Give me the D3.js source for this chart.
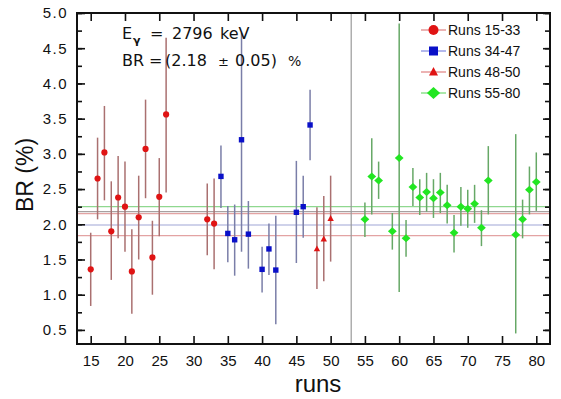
<!DOCTYPE html>
<html>
<head>
<meta charset="utf-8">
<script src="https://cdn.jsdelivr.net/npm/d3@7"></script>
<style>
  html, body { margin: 0; padding: 0; background: #fff; }
  svg { display: block; font-family: Arial, "Liberation Sans", sans-serif; }
</style>
</head>
<body>
<svg id="chart" width="561" height="399"></svg>
<script>
// ---- Data ----
const runsA = [15, 16, 17, 18, 19, 20, 21, 22, 23, 24, 25, 26, 32, 33];
const brA   = [1.36, 2.65, 3.02, 1.90, 2.38, 2.25, 1.33, 2.10, 3.07, 1.53, 2.39, 3.56, 2.07, 2.01];
const loA   = [0.84, 2.07, 2.34, 1.21, 1.80, 1.61, 0.73, 1.50, 2.37, 1.00, 1.83, 2.45, 1.56, 1.36];
const hiA   = [1.88, 3.23, 3.68, 2.61, 2.97, 2.89, 1.93, 2.69, 3.77, 2.05, 2.94, 4.65, 2.58, 2.65];

const runsB = [34, 35, 36, 37, 38, 40, 41, 42, 45, 46, 47];
const brB   = [2.68, 1.87, 1.78, 3.20, 1.86, 1.36, 1.65, 1.35, 2.17, 2.25, 3.41];
const loB   = [2.23, 1.46, 1.27, 1.61, 1.37, 1.03, 1.28, 0.58, 1.45, 1.81, 2.91];
const hiB   = [3.12, 2.26, 2.28, 4.72, 2.33, 1.68, 2.01, 2.12, 2.90, 2.69, 3.91];

const runsC = [48, 49, 50];
const brC   = [1.65, 1.79, 2.08];
const loC   = [1.08, 1.19, 1.47];
const hiC   = [2.24, 2.40, 2.69];

const runsD = [55, 56, 57, 59, 60, 61, 62, 63, 64, 65, 66, 67, 68, 69, 70, 71, 72, 73, 77, 78, 79, 80];
const brD   = [2.07, 2.68, 2.62, 1.90, 2.94, 1.80, 2.53, 2.38, 2.46, 2.37, 2.45, 2.27, 1.88, 2.25, 2.22, 2.29, 1.95, 2.62, 1.85, 2.07, 2.49, 2.60];
const loD   = [1.82, 2.14, 2.36, 1.64, 1.04, 1.54, 2.26, 2.13, 2.18, 2.09, 2.16, 2.01, 1.60, 1.98, 1.95, 2.02, 1.69, 2.14, 0.45, 1.80, 2.14, 2.19];
const hiD   = [2.31, 3.22, 2.89, 2.16, 4.85, 2.06, 2.80, 2.64, 2.73, 2.64, 2.73, 2.56, 2.13, 2.53, 2.49, 2.56, 2.20, 3.11, 3.28, 2.35, 2.82, 3.02];

const legendLabels = ["Runs 15-33", "Runs 34-47", "Runs 48-50", "Runs 55-80"];
const refLevels = [2.25, 2.18, 2.15, 1.99, 1.84];
const refColors = ["#8fd88f", "#a8a0a0", "#e3a3a3", "#a0a6d6", "#e3a3a3"];
const separatorRun = 53;
const xTicks = [15, 20, 25, 30, 35, 40, 45, 50, 55, 60, 65, 70, 75, 80];
const yTicks = [0.5, 1.0, 1.5, 2.0, 2.5, 3.0, 3.5, 4.0, 4.5, 5.0];
const yMinorTicks = d3.range(0.5, 5.01, 0.25);

// ---- Layout ----
const L = 77, R = 550, T = 13, B = 344;
const svg = d3.select("#chart");
const x = d3.scaleLinear().domain([13, 82]).range([L, R]);
const y = d3.scaleLinear().domain([0.3, 5.0]).range([B, T]);

// reference lines
svg.append("g").selectAll("line").data(refLevels).join("line")
  .attr("x1", L).attr("x2", R)
  .attr("y1", d => y(d)).attr("y2", d => y(d))
  .attr("stroke", (d, i) => refColors[i]).attr("stroke-width", 1.2);

// separator
svg.append("line")
  .attr("x1", x(separatorRun)).attr("x2", x(separatorRun))
  .attr("y1", T).attr("y2", B)
  .attr("stroke", "#9a9a9a").attr("stroke-width", 1.2);

// symbols
function markerPath(type, s) {
  if (type === "circle") return d3.symbol(d3.symbolCircle, Math.PI * s * s)();
  if (type === "square") return `M${-s},${-s}H${s}V${s}H${-s}Z`;
  if (type === "triangle") return `M0,${-s * 1.1}L${s},${s * 0.75}L${-s},${s * 0.75}Z`;
  if (type === "diamond") return `M0,${-s}L${s * 1.1},0L0,${s}L${-s * 1.1},0Z`;
}

const series = [
  { runs: runsA, v: brA, lo: loA, hi: hiA, color: "#e01414", bar: "#aa7070", type: "circle", s: 3.1 },
  { runs: runsB, v: brB, lo: loB, hi: hiB, color: "#0a10c8", bar: "#7a7ea8", type: "square", s: 2.7 },
  { runs: runsC, v: brC, lo: loC, hi: hiC, color: "#e01414", bar: "#aa7070", type: "triangle", s: 3.2 },
  { runs: runsD, v: brD, lo: loD, hi: hiD, color: "#22e622", bar: "#66a866", type: "diamond", s: 4.0 }
];

series.forEach(sr => {
  const g = svg.append("g");
  g.selectAll("line").data(sr.runs).join("line")
    .attr("x1", d => x(d)).attr("x2", d => x(d))
    .attr("y1", (d, i) => y(sr.lo[i])).attr("y2", (d, i) => y(sr.hi[i]))
    .attr("stroke", sr.bar).attr("stroke-width", 1.5);
  g.selectAll("path").data(sr.runs).join("path")
    .attr("transform", (d, i) => `translate(${x(d)},${y(sr.v[i])})`)
    .attr("d", markerPath(sr.type, sr.s))
    .attr("fill", sr.color);
});

// axes
const fmt = d3.format(".1f");
const axBottom = svg.append("g").attr("transform", `translate(0,${B})`)
  .call(d3.axisBottom(x).tickValues(xTicks).tickSize(-8).tickPadding(11).tickFormat(d3.format("d")));
svg.append("g").attr("transform", `translate(0,${T})`)
  .call(d3.axisTop(x).tickValues(xTicks).tickSize(-8).tickFormat(""));
const axLeft = svg.append("g").attr("transform", `translate(${L},0)`)
  .call(d3.axisLeft(y).tickValues(yTicks).tickSize(-8).tickPadding(9).tickFormat(fmt));
svg.append("g").attr("transform", `translate(${L},0)`)
  .call(d3.axisLeft(y).tickValues(yMinorTicks).tickSize(-5).tickFormat(""));
svg.append("g").attr("transform", `translate(${R},0)`)
  .call(d3.axisRight(y).tickValues(yTicks).tickSize(-7).tickFormat(""));
svg.append("g").attr("transform", `translate(${R},0)`)
  .call(d3.axisRight(y).tickValues(yMinorTicks).tickSize(-5).tickFormat(""));

svg.selectAll(".domain").remove();
svg.selectAll(".tick line").attr("stroke", "#111").attr("stroke-width", 1.6);
axBottom.selectAll("text").attr("font-size", 15).attr("fill", "#111");
axLeft.selectAll("text").attr("font-size", 15).attr("letter-spacing", 1.5).attr("fill", "#111");

// frame
svg.append("rect").attr("x", L).attr("y", T).attr("width", R - L).attr("height", B - T)
  .attr("fill", "none").attr("stroke", "#111").attr("stroke-width", 2);

// axis titles
svg.append("text").attr("x", 318).attr("y", 392).attr("text-anchor", "middle")
  .attr("font-size", 24).attr("fill", "#111").text("runs");
svg.append("text").attr("transform", "translate(33,175) rotate(-90)").attr("text-anchor", "middle")
  .attr("font-size", 23).attr("fill", "#111").text("BR (%)");

// annotation
const ann = svg.append("g").attr("font-size", 16).attr("fill", "#111")
  .attr("font-family", "'DejaVu Sans', sans-serif");
ann.append("text").attr("x", 122).attr("y", 39).text("E");
ann.append("text").attr("x", 133).attr("y", 44).attr("font-size", 11).attr("font-weight", "bold").text("γ");
ann.append("text").attr("x", 150).attr("y", 39).text("=");
ann.append("text").attr("x", 172).attr("y", 39).text("2796");
ann.append("text").attr("x", 220).attr("y", 39).text("keV");
ann.append("text").attr("x", 122).attr("y", 66).text("BR");
ann.append("text").attr("x", 149).attr("y", 66).text("=");
ann.append("text").attr("x", 165).attr("y", 66).text("(2.18");
ann.append("text").attr("x", 218).attr("y", 66).attr("font-size", 13).text("±");
ann.append("text").attr("x", 235).attr("y", 66).text("0.05)");
ann.append("text").attr("x", 288).attr("y", 66).attr("font-size", 14).text("%");

// legend
const legColors = ["#e01414", "#0a10c8", "#e01414", "#22e622"];
const legLine = ["#e69a9a", "#9aa0e6", "#e69a9a", "#8ee08e"];
const legTypes = ["circle", "square", "triangle", "diamond"];
const legSize = [5, 4.5, 4.5, 6];
const leg = svg.append("g");
legendLabels.forEach((lab, i) => {
  const yy = 30 + i * 21;
  leg.append("line").attr("x1", 421).attr("x2", 446).attr("y1", yy).attr("y2", yy)
    .attr("stroke", legLine[i]).attr("stroke-width", 1.5);
  leg.append("path").attr("transform", `translate(433.5,${yy})`)
    .attr("d", markerPath(legTypes[i], legSize[i])).attr("fill", legColors[i]);
  leg.append("text").attr("x", 448).attr("y", yy + 5).attr("font-size", 14).attr("fill", "#111").text(lab);
});
</script>
</body>
</html>
